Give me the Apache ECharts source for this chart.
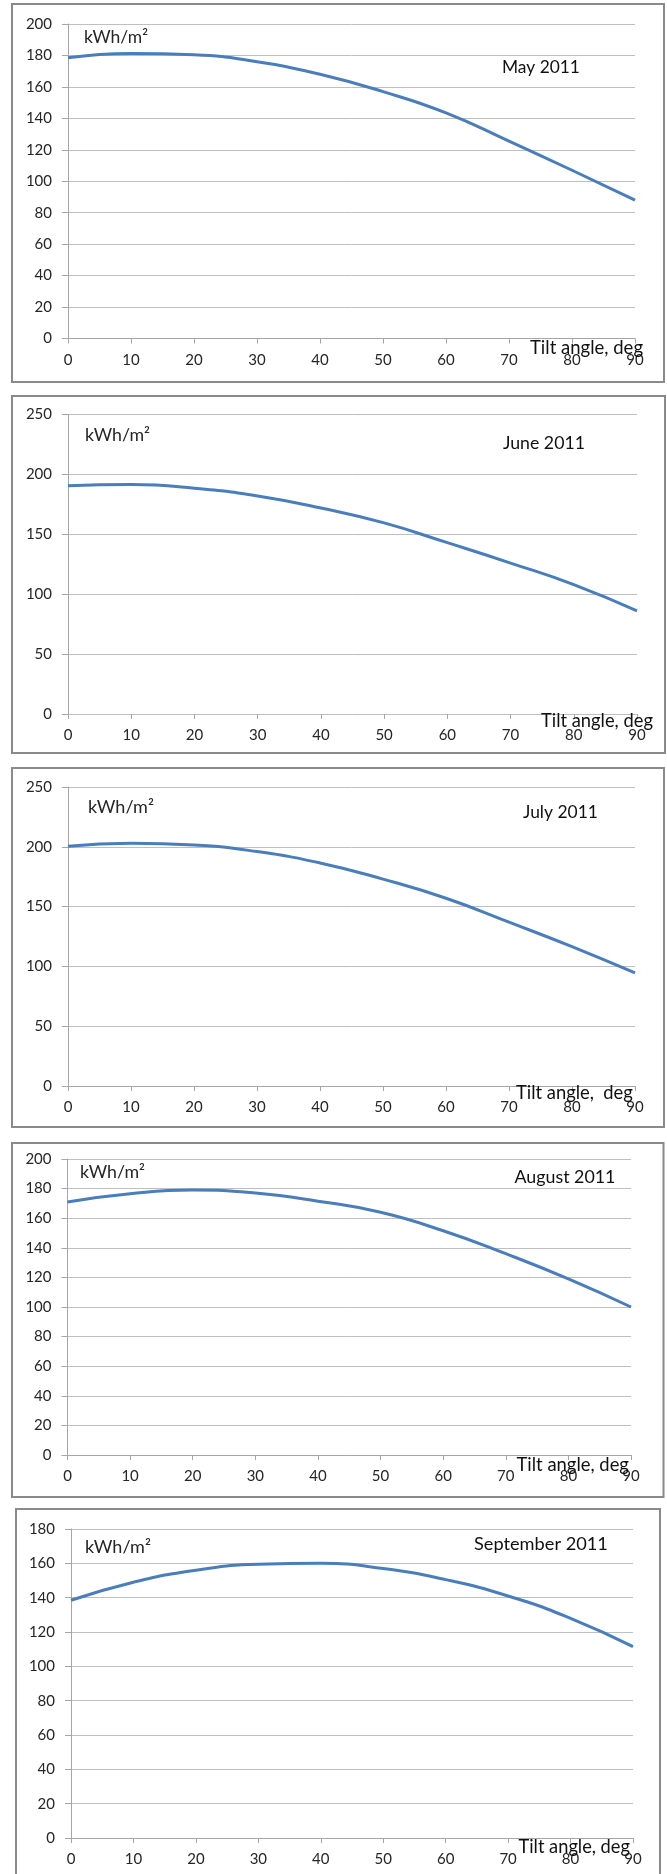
<!DOCTYPE html>
<html>
<head>
<meta charset="utf-8">
<script src="https://cdn.jsdelivr.net/npm/echarts@6/dist/echarts.min.js"></script>
<style>
  html, body { margin: 0; padding: 0; background: #ffffff; }
  #chart { width: 667px; height: 1874px; }
</style>
</head>
<body>
<div id="chart"></div>
<script>
// Tilt angles (deg) at which monthly irradiation was evaluated
const angles = [0, 10, 20, 30, 40, 50, 60, 70, 80, 90];

// Monthly irradiation on the tilted plane, kWh/m²
const may2011 = [178.5, 181.2, 180.4, 176, 168, 157, 143.5, 125.5, 107, 88];
const june2011 = [190.5, 191.5, 188.5, 182, 172, 159.5, 143, 126, 108, 86];
const july2011 = [200.5, 203, 201.5, 196, 186.5, 173, 157, 137, 116.5, 94.5];
const august2011 = [171, 176.5, 179, 177, 171.5, 164, 151.5, 136, 119, 100];
const september2011 = [138.5, 149, 156, 159.5, 160, 157, 150.5, 141, 128, 111.5];

const monthTitles = ['May 2011', 'June 2011', 'July 2011', 'August 2011', 'September 2011'];
const xAxisTitles = ['Tilt angle, deg', 'Tilt angle, deg', 'Tilt angle,  deg', 'Tilt angle, deg', 'Tilt angle, deg'];
const unitLabel = 'kWh/m²';
const yMax = [200, 250, 250, 200, 180];
const yStep = [20, 50, 50, 20, 20];

const seriesValues = [may2011, june2011, july2011, august2011, september2011];

// Layout of each panel: frame box, plot area, and text anchors [left x, centre y, width]
const panels = [
  { box: [12, 4, 652, 378], grid: { left: 68, right: 32, top: 24, height: 314.5 },
    unit: [84, 37, 64], month: [502, 67, 78], tilt: [530, 348, 113], xLine: true },
  { box: [12, 396, 653, 357], grid: { left: 68, right: 30, top: 414.5, height: 299.5 },
    unit: [85, 435, 65], month: [503, 443, 82], tilt: [541, 721, 112], xLine: false },
  { box: [12, 768, 652, 359], grid: { left: 68, right: 32, top: 787, height: 299 },
    unit: [88, 807, 66], month: [523, 812, 75], tilt: [516, 1093, 117], xLine: true },
  { box: [12, 1143, 651.5, 354], grid: { left: 67.5, right: 36, top: 1159, height: 296 },
    unit: [80, 1172, 65], month: [514.5, 1177, 101], tilt: [516.5, 1465, 112.5], xLine: true },
  { box: [16, 1509, 644, 380], grid: { left: 71, right: 34, top: 1529, height: 309 },
    unit: [85, 1547, 66], month: [474, 1544, 134], tilt: [518.5, 1847, 111.5], xLine: true }
];

const fontFamily = 'Lato, "Open Sans", sans-serif';
const textColor = '#262626';
const lineColor = '#4a7ebb';

// Pick a font size so that a caption spans the given width
const measureCtx = document.createElement('canvas').getContext('2d');
function fittedFont(text, width) {
  measureCtx.font = '16px ' + fontFamily;
  const w = measureCtx.measureText(text).width || width;
  const size = Math.max(12, Math.min(20, 16 * width / w));
  return size.toFixed(2) + 'px ' + fontFamily;
}

function caption(text, anchor, fill) {
  return {
    type: 'text', silent: true, z: 10,
    style: { text: text, x: anchor[0], y: anchor[1], fill: fill,
             font: fittedFont(text, anchor[2]), textAlign: 'left', textVerticalAlign: 'middle' }
  };
}

const grids = [], xAxes = [], yAxes = [], series = [], graphics = [];

panels.forEach((p, i) => {
  grids.push(p.grid);
  xAxes.push({
    type: 'value', gridIndex: i, min: 0, max: 90, interval: 10,
    axisLine: { show: p.xLine, lineStyle: { color: '#a6a6a6', width: 1 } },
    axisTick: { show: true, inside: false, length: 5, lineStyle: { color: '#a6a6a6' } },
    axisLabel: { color: textColor, fontFamily: fontFamily, fontSize: 15, margin: 14 },
    splitLine: { show: false }
  });
  yAxes.push({
    type: 'value', gridIndex: i, min: 0, max: yMax[i], interval: yStep[i],
    axisLine: { show: true, lineStyle: { color: '#a6a6a6', width: 1 } },
    axisTick: { show: true, inside: false, length: 6, lineStyle: { color: '#a6a6a6' } },
    axisLabel: { color: textColor, fontFamily: fontFamily, fontSize: 15, margin: 16 },
    splitLine: { show: true, lineStyle: { color: '#bfbfbf', width: 1 } }
  });
  series.push({
    type: 'line', xAxisIndex: i, yAxisIndex: i, smooth: true, showSymbol: false,
    lineStyle: { color: lineColor, width: 3 },
    data: angles.map((a, k) => [a, seriesValues[i][k]])
  });

  graphics.push({
    type: 'rect', silent: true, z: -1,
    shape: { x: p.box[0], y: p.box[1], width: p.box[2], height: p.box[3] },
    style: { fill: 'none', stroke: '#8a8a8a', lineWidth: 2 }
  });
  graphics.push(caption(unitLabel, p.unit, textColor));
  graphics.push(caption(monthTitles[i], p.month, '#111111'));
  graphics.push(caption(xAxisTitles[i], p.tilt, '#111111'));
});

const chart = echarts.init(document.getElementById('chart'), null, { renderer: 'canvas' });
chart.setOption({
  animation: false,
  backgroundColor: '#ffffff',
  grid: grids,
  xAxis: xAxes,
  yAxis: yAxes,
  series: series,
  graphic: graphics
});
</script>
</body>
</html>
